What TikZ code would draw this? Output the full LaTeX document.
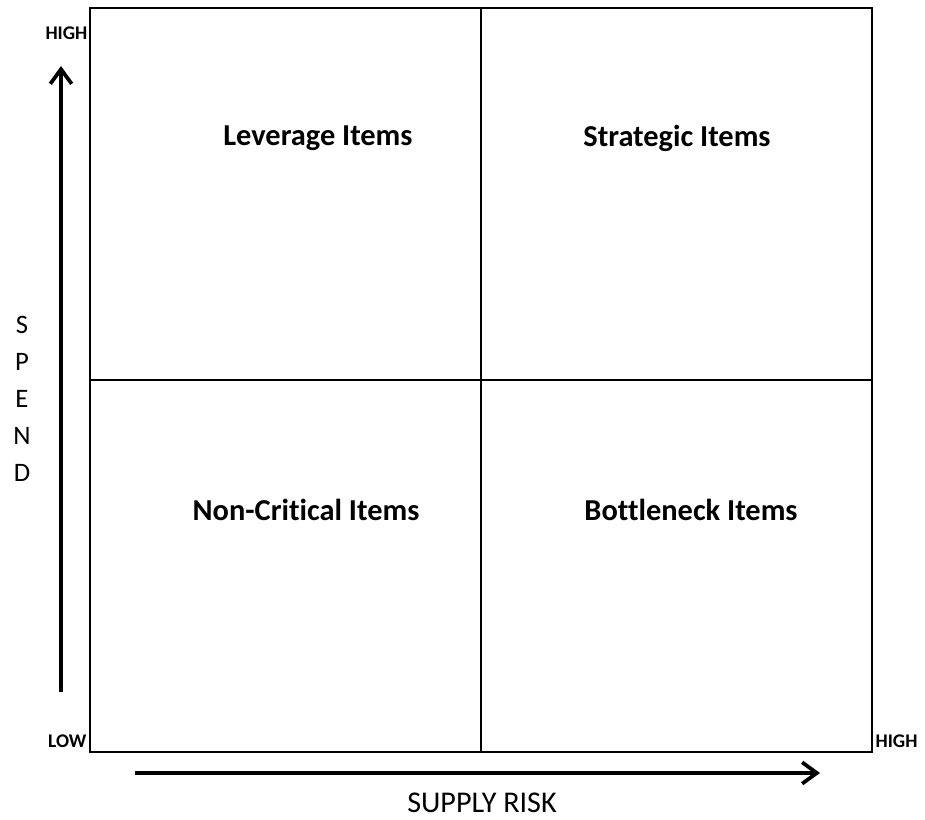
\documentclass[tikz,border=0pt]{standalone}
\usepackage{fontspec}
\setmainfont{Carlito}[Ligatures=NoCommon]
\usetikzlibrary{arrows.meta,positioning}

\begin{document}
\begin{tikzpicture}[x=0.75pt,y=-0.75pt,
  grid line/.style={line width=2.1pt},
  axis arrow/.style={line width=3.4pt,-{Straight Barb[length=11pt,width=16pt,line width=2.8pt]}},
  quad label/.style={font=\fontsize{22.8}{26}\selectfont\bfseries},
  end label/.style={font=\fontsize{14.5}{17}\selectfont\bfseries},
  axis label/.style={font=\fontsize{22.6}{26}\selectfont}]
\useasboundingbox (0,0) rectangle (925,820);
% matrix frame
\coordinate (SW) at (90,752);
\coordinate (NE) at (872,8);
\coordinate (midN) at (481,8);
\coordinate (midS) at (481,752);
\coordinate (midW) at (90,380);
\coordinate (midE) at (872,380);
\draw[grid line] (SW) rectangle (NE);
\draw[grid line] (midN) -- (midS);
\draw[grid line] (midW) -- (midE);
% quadrants
\node[quad label] (lev) at (318,138) {Leverage Items};
\node[quad label] (str) at (677,138) {Strategic Items};
\node[quad label] (non) at (306,510) {Non-Critical Items};
\node[quad label] (bot) at (691,510) {Bottleneck Items};
% axes
\coordinate (spendLo) at (61,692);
\coordinate (spendHi) at (61,66);
\coordinate (riskLo) at (135,773);
\coordinate (riskHi) at (820,773);
\draw[axis arrow] (spendLo) -- (spendHi);
\draw[axis arrow] (riskLo) -- (riskHi);
\node[end label,anchor=east,inner sep=1pt] (hiY) at (89,33) {HIGH};
\node[end label,anchor=east,inner sep=1pt] (loY) at (88,741) {LOW};
\node[end label,anchor=west,inner sep=1pt] (hiX) at (874,741) {HIGH};
\node[align=center,font=\fontsize{20}{27.75}\selectfont] (spend) at (22,399) {S\\P\\E\\N\\D};
\node[axis label] (risk) at (482,803) {SUPPLY RISK};
\end{tikzpicture}
\end{document}
